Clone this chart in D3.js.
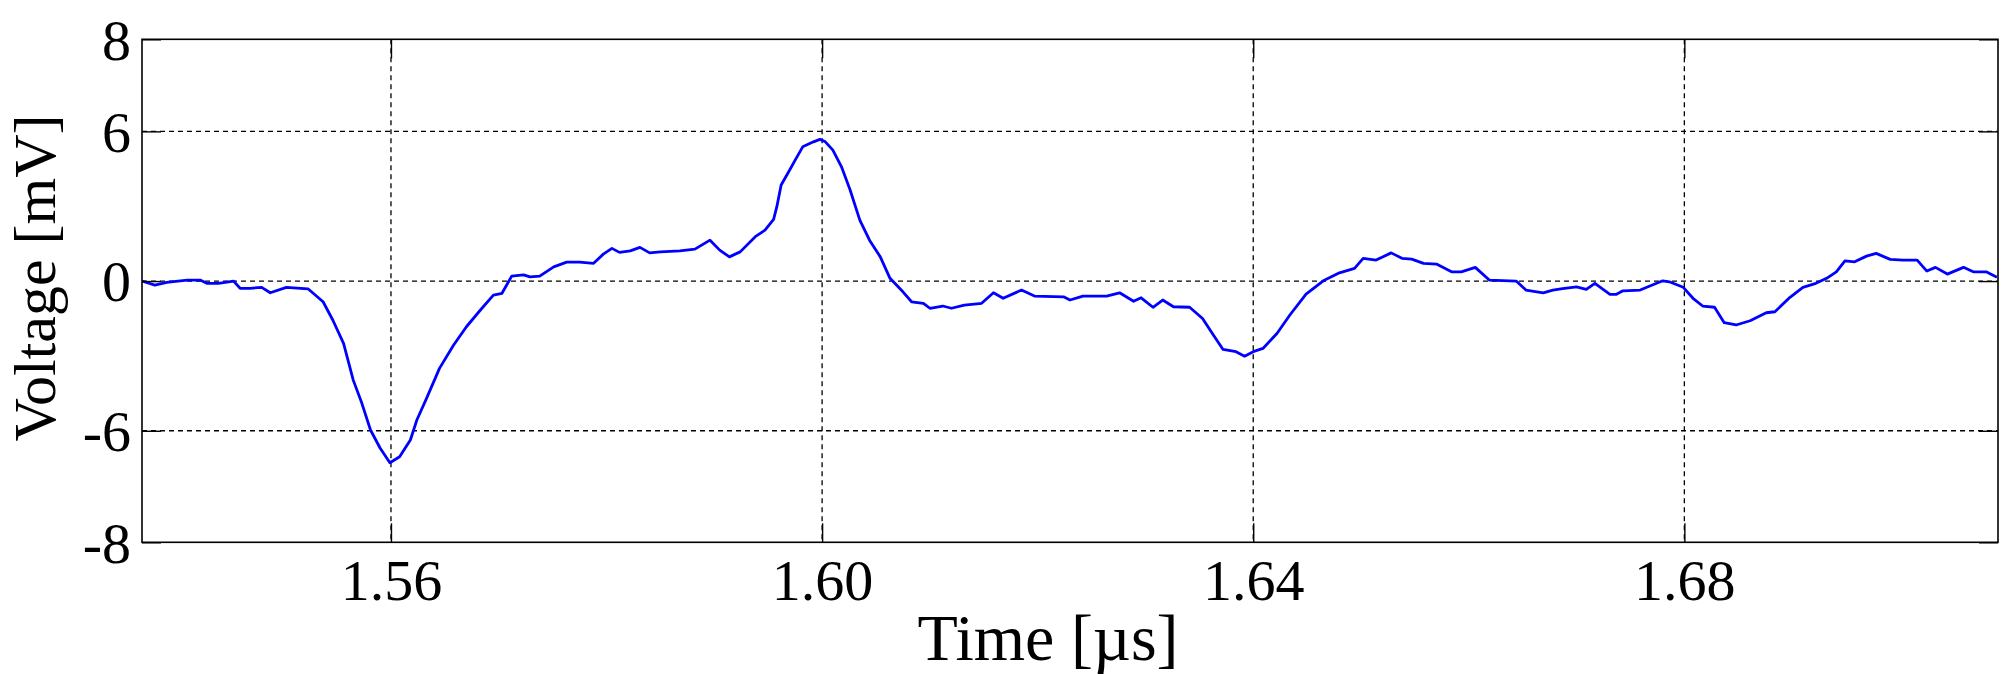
<!DOCTYPE html>
<html>
<head>
<meta charset="utf-8">
<script src="https://cdn.jsdelivr.net/npm/d3@7"></script>
<style>
  html, body { margin: 0; padding: 0; background: #fff; }
  svg { display: block; }
  text { font-family: "Liberation Serif", "Times New Roman", serif; fill: #000; }
</style>
</head>
<body>
<svg id="chart" width="2013" height="674"></svg>
<script>
// ---- data ----
const timeUs = [
  1.5369, 1.5381, 1.5392, 1.5411, 1.5423, 1.5429, 1.5440, 1.5454, 1.5460, 1.5469,
  1.5480, 1.5488, 1.5503, 1.5523, 1.5537, 1.5546, 1.5556, 1.5565, 1.5573, 1.5581,
  1.5590, 1.5599, 1.5608, 1.5618, 1.5624, 1.5633, 1.5645, 1.5658, 1.5670, 1.5683,
  1.5695, 1.5703, 1.5712, 1.5723, 1.5729, 1.5738, 1.5751, 1.5763, 1.5775, 1.5788,
  1.5797, 1.5805, 1.5812, 1.5822, 1.5831, 1.5840, 1.5850, 1.5868, 1.5882, 1.5896,
  1.5905, 1.5914, 1.5924, 1.5938, 1.5947, 1.5955, 1.5958, 1.5962, 1.5969, 1.5975,
  1.5982, 1.5992, 1.5998, 1.6003, 1.6010, 1.6018, 1.6026, 1.6035, 1.6044, 1.6054,
  1.6063, 1.6075, 1.6083, 1.6094, 1.6100, 1.6112, 1.6120, 1.6132, 1.6148, 1.6159,
  1.6168, 1.6185, 1.6197, 1.6224, 1.6230, 1.6242, 1.6264, 1.6276, 1.6289, 1.6296,
  1.6307, 1.6316, 1.6326, 1.6341, 1.6353, 1.6363, 1.6372, 1.6384, 1.6392, 1.6400,
  1.6409, 1.6422, 1.6434, 1.6449, 1.6465, 1.6480, 1.6494, 1.6502, 1.6514, 1.6528,
  1.6538, 1.6547, 1.6558, 1.6570, 1.6584, 1.6593, 1.6606, 1.6619, 1.6644, 1.6653,
  1.6669, 1.6678, 1.6687, 1.6700, 1.6709, 1.6717, 1.6731, 1.6737, 1.6743, 1.6759,
  1.6768, 1.6780, 1.6786, 1.6799, 1.6808, 1.6817, 1.6828, 1.6837, 1.6848, 1.6861,
  1.6876, 1.6884, 1.6898, 1.6910, 1.6922, 1.6932, 1.6941, 1.6949, 1.6958, 1.6969,
  1.6978, 1.6991, 1.7003, 1.7016, 1.7025, 1.7033, 1.7044, 1.7059, 1.7068, 1.7080,
  1.7090
];
const voltageMv = [
  0.00, -0.16, -0.05, 0.04, 0.04, -0.09, -0.09, 0.00, -0.29, -0.29,
  -0.25, -0.47, -0.25, -0.31, -0.83, -1.56, -2.50, -3.97, -4.90, -5.97,
  -6.70, -7.28, -7.04, -6.37, -5.57, -4.70, -3.50, -2.57, -1.83, -1.16,
  -0.56, -0.49, 0.20, 0.25, 0.17, 0.20, 0.57, 0.76, 0.76, 0.71,
  1.08, 1.31, 1.15, 1.21, 1.35, 1.13, 1.17, 1.21, 1.28, 1.64,
  1.24, 0.97, 1.17, 1.78, 2.04, 2.47, 2.98, 3.85, 4.38, 4.85,
  5.38, 5.58, 5.68, 5.58, 5.25, 4.58, 3.65, 2.44, 1.64, 0.97,
  0.11, -0.43, -0.83, -0.89, -1.09, -1.00, -1.09, -0.96, -0.89, -0.47,
  -0.69, -0.36, -0.60, -0.63, -0.76, -0.60, -0.60, -0.47, -0.81, -0.67,
  -1.05, -0.76, -1.03, -1.05, -1.50, -2.16, -2.74, -2.83, -3.01, -2.83,
  -2.70, -2.10, -1.36, -0.52, 0.01, 0.33, 0.51, 0.91, 0.84, 1.13,
  0.91, 0.88, 0.71, 0.68, 0.37, 0.37, 0.55, 0.04, 0.00, -0.36,
  -0.47, -0.36, -0.30, -0.23, -0.33, -0.09, -0.53, -0.53, -0.39, -0.36,
  -0.20, 0.01, -0.03, -0.25, -0.69, -1.00, -1.05, -1.67, -1.76, -1.59,
  -1.27, -1.23, -0.65, -0.25, -0.09, 0.11, 0.37, 0.81, 0.77, 1.00,
  1.11, 0.87, 0.84, 0.84, 0.40, 0.55, 0.28, 0.55, 0.37, 0.37,
  0.15
];
const xDomain = [1.5369, 1.7091];
const yDomain = [-10.47, 9.69];
const xTickValues = [1.56, 1.60, 1.64, 1.68];
const xTickLabels = ["1.56", "1.60", "1.64", "1.68"];
const yTickValues = [-10.47, -6, 0, 6, 9.69];
const yTickLabels = ["-8", "-6", "0", "6", "8"];
const xTitle = "Time [\u00B5s]";
const yTitle = "Voltage [mV]";

// ---- layout ----
const W = 2013, H = 674;
const margin = { left: 142, top: 39.3, right: 15, bottom: 131.7 };
const iw = W - margin.left - margin.right;
const ih = H - margin.top - margin.bottom;
const tickLen = 19;

const svg = d3.select("#chart");
const g = svg.append("g").attr("transform", `translate(${margin.left},${margin.top})`);

const x = d3.scaleLinear().domain(xDomain).range([0, iw]);
const y = d3.scaleLinear().domain(yDomain).range([ih, 0]);

// clip
svg.append("defs").append("clipPath").attr("id", "plotclip")
  .append("rect").attr("x", 0).attr("y", 0).attr("width", iw).attr("height", ih);

// grid (dashed)
const grid = g.append("g").attr("class", "grid");
grid.selectAll("line.gx").data(xTickValues).enter().append("line")
  .attr("x1", d => x(d)).attr("x2", d => x(d))
  .attr("y1", 0).attr("y2", ih)
  .attr("stroke", "#000").attr("stroke-width", 1.3).attr("stroke-dasharray", "5,4");
grid.selectAll("line.gy").data([-6, 0, 6]).enter().append("line")
  .attr("x1", 0).attr("x2", iw)
  .attr("y1", d => y(d)).attr("y2", d => y(d))
  .attr("stroke", "#000").attr("stroke-width", 1.3).attr("stroke-dasharray", "5,4");

// data line
const pts = timeUs.map((t, i) => [t, voltageMv[i]]);
const line = d3.line().x(d => x(d[0])).y(d => y(d[1]));
g.append("path").datum(pts)
  .attr("clip-path", "url(#plotclip)")
  .attr("fill", "none").attr("stroke", "#0000FF").attr("stroke-width", 2.8)
  .attr("stroke-linejoin", "round")
  .attr("d", line);

// axes with inward ticks (MATLAB-like box)
const fmtX = (d, i) => xTickLabels[i];
const fmtY = (d, i) => yTickLabels[i];

const xAxisB = g.append("g").attr("transform", `translate(0,${ih})`)
  .call(d3.axisBottom(x).tickValues(xTickValues).tickFormat(fmtX).tickSizeInner(-tickLen).tickSizeOuter(0).tickPadding(0));
const xAxisT = g.append("g")
  .call(d3.axisTop(x).tickValues(xTickValues).tickFormat("").tickSizeInner(-tickLen).tickSizeOuter(0));
const yAxisL = g.append("g")
  .call(d3.axisLeft(y).tickValues(yTickValues).tickFormat(fmtY).tickSizeInner(-tickLen).tickSizeOuter(0).tickPadding(0));
const yAxisR = g.append("g").attr("transform", `translate(${iw},0)`)
  .call(d3.axisRight(y).tickValues(yTickValues).tickFormat("").tickSizeInner(-tickLen).tickSizeOuter(0));

[xAxisB, xAxisT, yAxisL, yAxisR].forEach(a => {
  a.select(".domain").remove();
  a.selectAll(".tick line").attr("stroke", "#000").attr("stroke-width", 1.4);
});

// remove tick marks at the box edges for y (they coincide with the frame)
yAxisL.selectAll(".tick text")
  .attr("font-size", 58).attr("x", -11).attr("dy", "0.34em")
  .style("font-family", '"Liberation Serif", "Times New Roman", serif');
xAxisB.selectAll(".tick text")
  .attr("font-size", 58).attr("y", 57.7).attr("dy", 0)
  .style("font-family", '"Liberation Serif", "Times New Roman", serif');

// frame
g.append("rect").attr("x", 0).attr("y", 0).attr("width", iw).attr("height", ih)
  .attr("fill", "none").attr("stroke", "#000").attr("stroke-width", 1.6);

// titles
svg.append("text").attr("x", 1048).attr("y", 660)
  .attr("text-anchor", "middle").attr("font-size", 66).text(xTitle);
svg.append("text").attr("transform", "translate(55,278) rotate(-90)")
  .attr("text-anchor", "middle").attr("font-size", 60).text(yTitle);
</script>
</body>
</html>
